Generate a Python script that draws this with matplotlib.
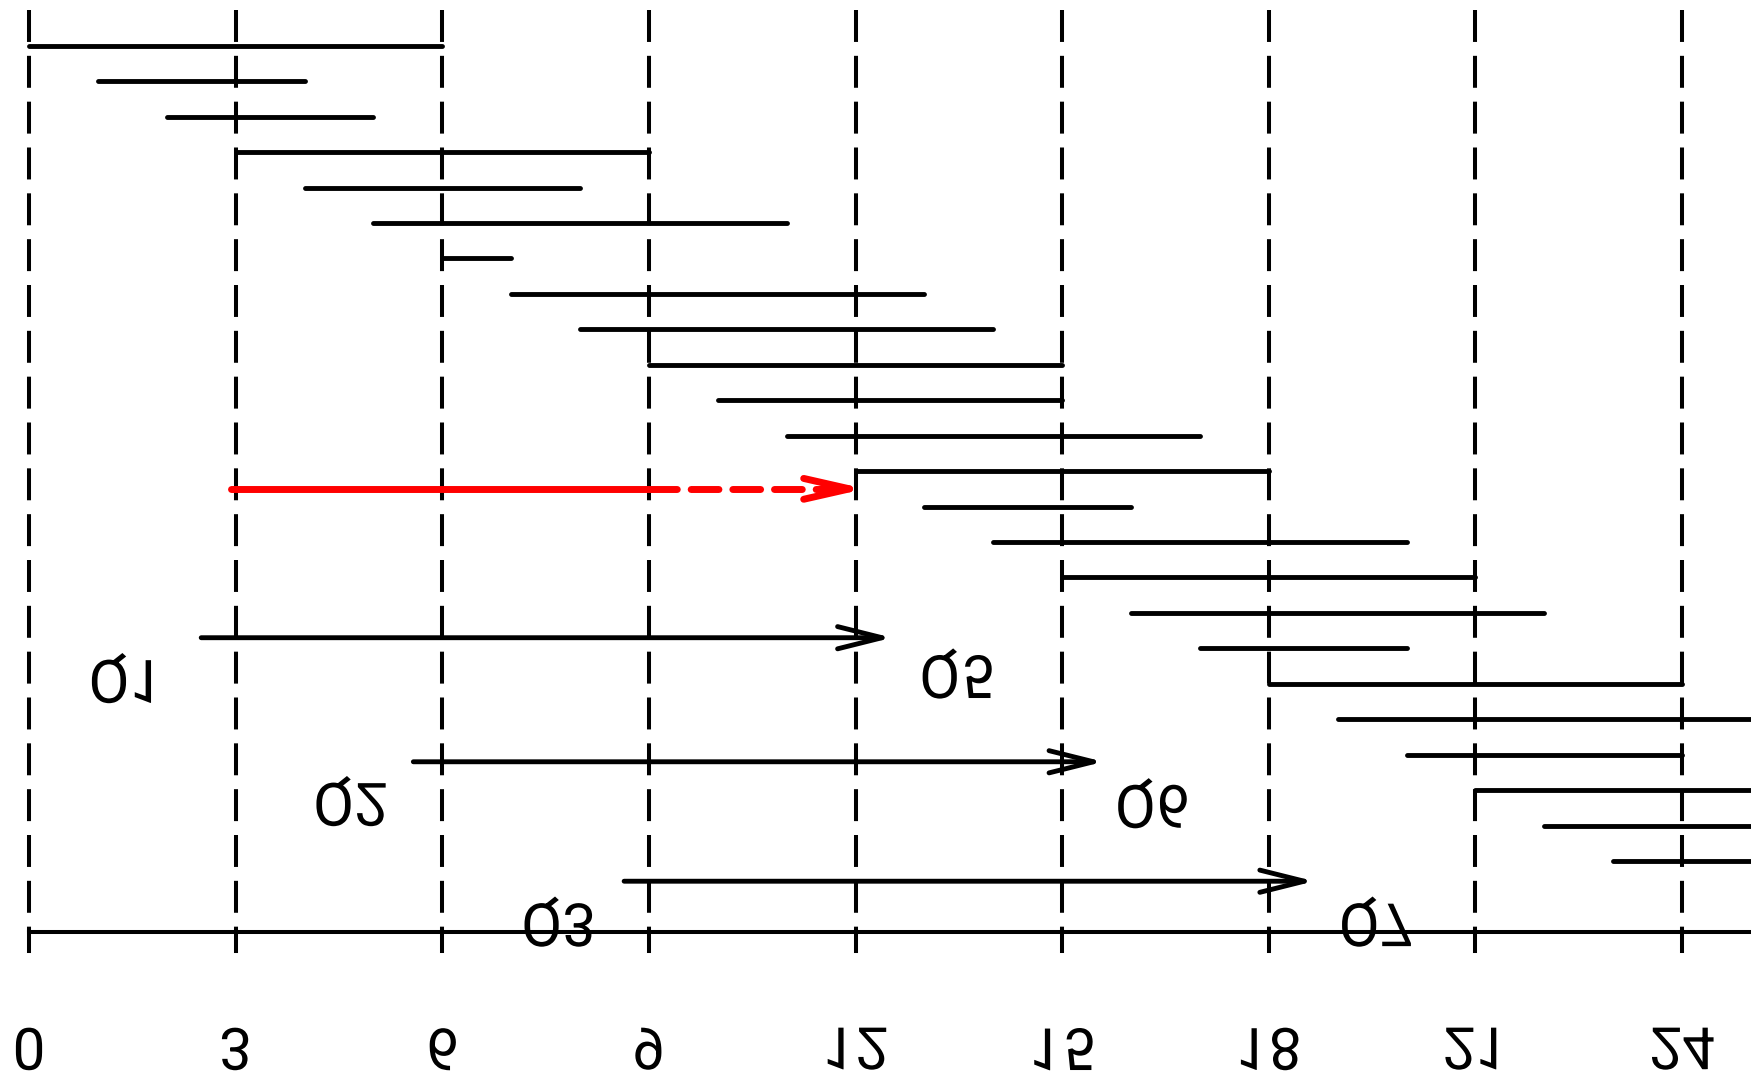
import matplotlib
matplotlib.use("Agg")
import matplotlib.pyplot as plt
import matplotlib.patheffects as pe
from matplotlib.transforms import Affine2D

plt.rcParams['font.family'] = ['Roboto', 'DejaVu Sans']
plt.rcParams['lines.scale_dashes'] = False

# intervals, one per row (row 1 at the top)
starts = [0, 1, 2, 3, 4, 5, 6, 7, 8, 9, 10, 11, 12, 13, 14, 15, 16, 17, 18, 19, 20, 21, 22, 23]
ends = [6, 4, 5, 9, 8, 11, 7, 13, 14, 15, 15, 17, 18, 16, 20, 21, 22, 20, 24, 25, 24, 27, 28, 29]

tick_vals = [0, 3, 6, 9, 12, 15, 18, 21, 24]
tick_labels = ['0', '3', '6', '9', '12', '15', '18', '21', '24']

# black arrows
arrow_rows = [17.7, 21.2, 24.57]
arrow_from = [2.5, 5.58, 8.64]
arrow_to = [12.45, 15.52, 18.58]

# red arrow: solid part then dashed part
red_row = 13.5
red_from, red_mid, red_to = 2.93, 9, 12

labels = ['Q1', 'Q5', 'Q2', 'Q6', 'Q3', 'Q7']
label_x = [1.41, 13.47, 4.67, 16.31, 7.69, 19.56]
label_y = [18.93, 18.8, 22.4, 22.46, 25.8, 25.8]


class FlipV(pe.AbstractPathEffect):
    """Draw the text path mirrored top to bottom about its own centre."""
    def draw_path(self, renderer, gc, tpath, affine, rgbFace=None):
        ext = tpath.get_extents(affine)
        yc = (ext.y0 + ext.y1) / 2
        flip = affine + Affine2D().translate(0, -yc).scale(1, -1).translate(0, yc)
        renderer.draw_path(gc, tpath, flip, rgbFace)


fig = plt.figure(figsize=(17.51, 10.79), dpi=100)
ax = fig.add_axes([0, 0, 1, 1])
ax.set_xlim(-0.421, 25.0)
ax.set_ylim(30.15, -0.292)
ax.axis('off')

# dashed grid lines and ticks
for t in tick_vals:
    ax.plot([t, t], [0, 26], color='black', lw=2.9, ls=(0, (23, 10)), zorder=1)
    ax.plot([t, t], [26, 26.55], color='black', lw=2.9, zorder=1)
ax.plot([0, 30], [26, 26], color='black', lw=2.9, zorder=2)

for i, (s, e) in enumerate(zip(starts, ends)):
    ax.plot([s, e], [i + 1, i + 1], color='black', lw=3.5, solid_capstyle='round', zorder=3)

tip_pad = 0.08
for y, a, b in zip(arrow_rows, arrow_from, arrow_to):
    ax.annotate('', xy=(b + tip_pad, y), xytext=(a, y),
                arrowprops=dict(arrowstyle='->,head_length=3.2,head_width=0.8',
                                mutation_scale=10, lw=3.5, color='black',
                                capstyle='round', shrinkA=0, shrinkB=0), zorder=3)

ax.plot([red_from, red_mid], [red_row, red_row], color='red', lw=5, solid_capstyle='round', zorder=4)
ax.plot([red_mid, red_to - 0.1], [red_row, red_row], color='red', lw=5,
        ls=(0, (20, 10)), dash_capstyle='round', zorder=4)
ax.annotate('', xy=(red_to + 0.14, red_row), xytext=(red_to - 0.5, red_row),
            arrowprops=dict(arrowstyle='->,head_length=3.3,head_width=0.75',
                            mutation_scale=10, lw=5, color='red',
                            shrinkA=0, shrinkB=0), zorder=4)

flip = [FlipV()]
for lab, x, y in zip(labels, label_x, label_y):
    ax.text(x, y - 0.05, lab, fontsize=43, ha='center', va='center', path_effects=flip, zorder=5)

for t, lab in zip(tick_vals, tick_labels):
    ax.text(t, 29.45, lab, fontsize=42, ha='center', va='center', path_effects=flip, zorder=5)

fig.savefig('out.png', dpi=100)
